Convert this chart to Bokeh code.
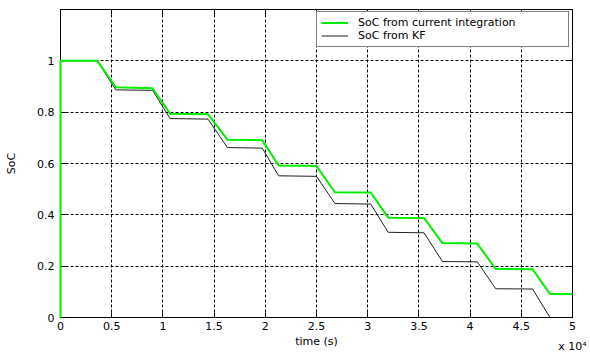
from bokeh.plotting import figure
from bokeh.models import (FixedTicker, LinearAxis, Legend, LegendItem, Range1d,
                          CustomJSTickFormatter)
from bokeh.embed import file_html
from bokeh.resources import INLINE

# ---- data (time in seconds) ----
t_ci = [0, 0, 3600, 5400, 9000, 10700, 14400, 16300, 19700, 21300, 25000,
        26800, 30300, 32000, 35500, 37300, 40700, 42500, 46100, 47800, 50000]
soc_ci = [0, 1.0, 1.0, 0.897, 0.893, 0.794, 0.792, 0.693, 0.691, 0.592, 0.590,
          0.488, 0.487, 0.389, 0.388, 0.290, 0.288, 0.189, 0.188, 0.092, 0.092]

t_kf = [0, 3600, 5400, 9000, 10700, 14400, 16300, 19700, 21300, 25000,
        26800, 30300, 32000, 35500, 37300, 40700, 42500, 46100, 47800, 50000]
soc_kf = [1.0, 1.0, 0.887, 0.885, 0.775, 0.773, 0.662, 0.660, 0.552, 0.550,
          0.444, 0.442, 0.332, 0.330, 0.218, 0.217, 0.112, 0.111, 0.0, 0.0]

x_ticks = [0, 5000, 10000, 15000, 20000, 25000, 30000, 35000, 40000, 45000, 50000]
x_tick_labels = ["0", "0.5", "1", "1.5", "2", "2.5", "3", "3.5", "4", "4.5", "5"]
y_ticks = [0, 0.2, 0.4, 0.6, 0.8, 1.0]
y_tick_labels = ["0", "0.2", "0.4", "0.6", "0.8", "1"]

FONT = "DejaVu Sans"
FS = "11px"

p = figure(width=590, height=355, output_backend="svg", toolbar_location=None,
           x_range=Range1d(0, 50000), y_range=Range1d(0, 1.2),
           min_border_left=60, min_border_right=18, min_border_top=9, min_border_bottom=37)
p.background_fill_color = "white"
p.border_fill_color = "white"
p.outline_line_color = "black"
p.outline_line_width = 1

def style_axis(ax):
    ax.axis_line_color = "black"
    ax.major_tick_line_color = "black"
    ax.major_tick_in = 5
    ax.major_tick_out = 0
    ax.minor_tick_line_color = None
    ax.major_label_text_font = FONT
    ax.major_label_text_font_size = FS
    ax.major_label_text_color = "black"
    ax.axis_label_text_font = FONT
    ax.axis_label_text_font_size = FS
    ax.axis_label_text_font_style = "normal"
    ax.axis_label_text_color = "black"

xa = p.xaxis[0]
xa.ticker = FixedTicker(ticks=x_ticks)
xa.major_label_overrides = dict(zip(x_ticks, x_tick_labels))
xa.axis_label = "time (s)"
xa.major_label_standoff = 4
xa.axis_label_standoff = 2
style_axis(xa)

# exponent label "x 10^4" on its own (tick-less) axis, right aligned
xexp = LinearAxis(ticker=FixedTicker(ticks=[]))
style_axis(xexp)
xexp.axis_line_color = None
xexp.major_tick_in = 0
xexp.axis_label = "x 10⁴"
xexp.axis_label_align = "end"
xexp.axis_label_standoff = -11
p.add_layout(xexp, "below")

ya = p.yaxis[0]
ya.ticker = FixedTicker(ticks=y_ticks)
ya.major_label_overrides = dict(zip(y_ticks, y_tick_labels))
ya.axis_label = "SoC"
ya.major_label_standoff = 6
ya.axis_label_standoff = 16
style_axis(ya)

blank = CustomJSTickFormatter(code="return ''")
top = LinearAxis(ticker=FixedTicker(ticks=x_ticks), formatter=blank)
style_axis(top)
top.major_label_standoff = 0
p.add_layout(top, "above")
right = LinearAxis(ticker=FixedTicker(ticks=y_ticks), formatter=blank)
style_axis(right)
right.major_label_standoff = 0
p.add_layout(right, "right")

for g in (p.xgrid[0], p.ygrid[0]):
    g.grid_line_color = "black"
    g.grid_line_dash = "3 2"
    g.grid_line_width = 1
p.xgrid[0].ticker = FixedTicker(ticks=x_ticks[1:-1])
p.ygrid[0].ticker = FixedTicker(ticks=y_ticks[1:])

r_ci = p.line(t_ci, soc_ci, line_color="#00ee00", line_width=2, level="overlay")
r_kf = p.line(t_kf, soc_kf, line_color="#202020", line_width=1)

legend = Legend(items=[LegendItem(label="SoC from current integration", renderers=[r_ci]),
                       LegendItem(label="SoC from KF", renderers=[r_kf])],
                location=(256, 270))
legend.label_text_font = FONT
legend.label_text_font_size = FS
legend.label_text_color = "black"
legend.border_line_color = "black"
legend.border_line_width = 1
legend.background_fill_color = "white"
legend.background_fill_alpha = 1
legend.padding = 4
legend.spacing = 0
legend.margin = 0
legend.glyph_width = 27
legend.glyph_height = 13
legend.label_height = 13
legend.label_standoff = 10
legend.label_width = 206
p.add_layout(legend, "center")

open("out.html", "w").write(file_html(p, INLINE))
